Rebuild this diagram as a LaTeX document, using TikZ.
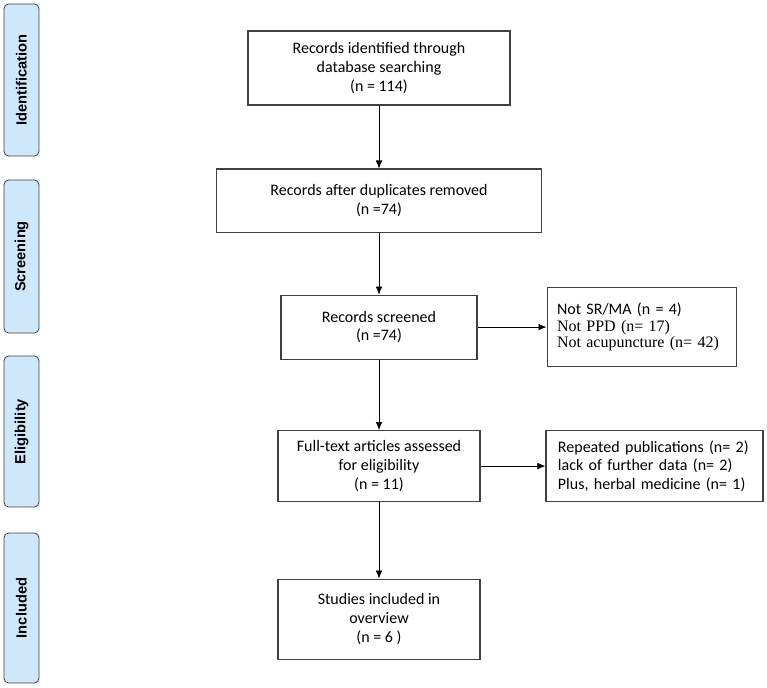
\documentclass[tikz,border=0pt]{standalone}
\usepackage{fontspec}
\setmainfont{Carlito}
\newfontfamily\notefont{Liberation Serif}
\newfontfamily\phasefont{Liberation Sans}
\usepackage{tikz}
\usetikzlibrary{arrows,arrows.meta,shapes}
\definecolor{phaseblue}{RGB}{207,231,250}
\definecolor{linegray}{RGB}{64,64,64}
\newcommand{\tnote}[1]{{\notefont\fontsize{12}{12.4}\selectfont #1}}

\begin{document}
\begin{tikzpicture}[x=0.75pt,y=-0.75pt,->,>={Latex[length=6pt,width=5pt]},semithick,node distance=100pt]
  \tikzstyle{every node}=[font=\fontsize{12}{14}\selectfont]
  \tikzstyle{flowbox}=[draw=linegray,line width=0.8pt,align=center,inner sep=2pt]
  \tikzstyle{notebox}=[draw=linegray,line width=0.8pt,align=left,inner ysep=2pt]
  \tikzstyle{phase}=[draw=linegray,fill=phaseblue,rounded corners=3.5pt,rotate=90,
    minimum height=26.25pt,inner sep=0pt,font=\phasefont\bfseries\fontsize{11}{13}\selectfont]

  \useasboundingbox (0,0) rectangle (767,688);

  % phase labels on the left
  \node[phase, minimum width=114pt]   (id)  at (21.5,80)    {Identification};
  \node[phase, minimum width=114.75pt](scr) at (21.5,256.5) {Screening};
  \node[phase, minimum width=113.25pt](eli) at (21.5,431.5) {Eligibility};
  \node[phase, minimum width=112.5pt] (inc) at (21.5,608)   {Included};

  % main flow
  \node[flowbox, minimum width=196.5pt, minimum height=55.5pt] (A) at (379,68)
    {Records identified through\\ database searching\\ (n = 114)};
  \node[flowbox, minimum width=243.75pt, minimum height=47.25pt] (B) [below of=A, node distance=99.4pt]
    {Records after duplicates removed\\ (n =74)};
  \node[flowbox, minimum width=147pt, minimum height=48pt] (C) [below of=B, node distance=94.9pt]
    {Records screened\\ (n =74)};
  \node[flowbox, minimum width=151.5pt, minimum height=53.25pt] (E) [below of=C, node distance=104.25pt]
    {Full-text articles assessed\\ for eligibility\\ (n = 11)};
  \node[flowbox, minimum width=151.5pt, minimum height=60pt] (G) [below of=E, node distance=114.75pt]
    {Studies included in\\ overview\\ (n = 6 )};

  % exclusions
  \node[notebox, text width=126.75pt, inner xsep=7.5pt, minimum height=59.25pt,
        font=\fontsize{12}{12.4}\selectfont] (D) [right of=C, node distance=196.9pt]
    {Not SR/MA (n = 4)\\ \tnote{Not PPD (n= 17)}\\ \tnote{Not acupuncture (n= 42)}};
  \node[notebox, text width=144.75pt, inner xsep=9pt, minimum height=53.25pt] (F) [right of=E, node distance=206.6pt]
    {Repeated publications (n= 2)\\ lack of further data (n= 2)\\ Plus, herbal medicine (n= 1)};

  \path (A) edge (B)
        (B) edge (C)
        (C) edge (D)
            edge (E)
        (E) edge (F)
            edge (G);
\end{tikzpicture}
\end{document}
